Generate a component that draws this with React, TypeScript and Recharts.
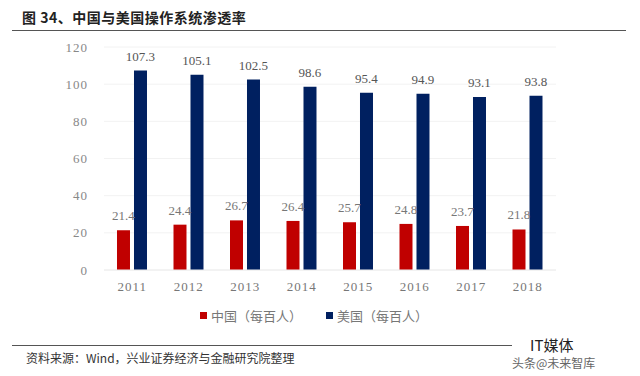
import React from "react";
import { BarChart, Bar, XAxis, YAxis, CartesianGrid, LabelList } from "recharts";

const years = ["2011", "2012", "2013", "2014", "2015", "2016", "2017", "2018"];
const chinaValues = [21.4, 24.4, 26.7, 26.4, 25.7, 24.8, 23.7, 21.8];
const usValues = [107.3, 105.1, 102.5, 98.6, 95.4, 94.9, 93.1, 93.8];
const yTicks = [0, 20, 40, 60, 80, 100, 120];

const data = years.map((year, i) => ({ year, china: chinaValues[i], us: usValues[i] }));

const serif = "'Liberation Serif', 'DejaVu Serif', 'Noto Sans CJK SC', serif";
const cjk = "'Noto Sans CJK SC', sans-serif";

function LegendContent() {
  const items = [
    { label: "中国（每百人）", color: "#C00000" },
    { label: "美国（每百人）", color: "#002060" },
  ];
  return (
    <div style={{ display: "flex", gap: 24, fontFamily: cjk, fontSize: 13, color: "#777" }}>
      {items.map((it) => (
        <div key={it.label} style={{ display: "flex", alignItems: "center" }}>
          <span style={{ width: 7, height: 7, background: it.color, marginRight: 4, display: "inline-block" }} />
          <span>{it.label}</span>
        </div>
      ))}
    </div>
  );
}

export default function App() {
  return (
    <div style={{ position: "absolute", left: 0, top: 0, width: 640, height: 376, background: "#fff", overflow: "hidden" }}>
      <div style={{ position: "absolute", left: 22, top: 7, fontFamily: cjk, fontWeight: 700, fontSize: 14, color: "#222", letterSpacing: 0.5 }}>
        图 34、中国与美国操作系统渗透率
      </div>
      <div style={{ position: "absolute", left: 12, top: 30, width: 614, height: 1, background: "#555" }} />

      <BarChart
        width={640}
        height={376}
        data={data}
        margin={{ top: 47, right: 84, bottom: 76, left: 0 }}
        barCategoryGap="23%"
        barGap={4}
      >
        <CartesianGrid vertical={false} stroke="#f2f2f2" />
        <XAxis
          dataKey="year"
          axisLine={{ stroke: "#ececec" }}
          tickLine={false}
          tickMargin={6}
          tick={{ fontSize: 13, fill: "#777", fontFamily: serif, letterSpacing: 1 }}
        />
        <YAxis
          width={104}
          domain={[0, 120]}
          ticks={yTicks}
          axisLine={false}
          tickLine={false}
          tickMargin={10}
          tick={{ fontSize: 13, fill: "#888", fontFamily: serif, letterSpacing: 1 }}
        />
        <Bar dataKey="china" fill="#C00000" isAnimationActive={false}>
          <LabelList dataKey="china" position="top" offset={10} style={{ fontSize: 13, fill: "#777", fontFamily: serif }} />
        </Bar>
        <Bar dataKey="us" fill="#002060" isAnimationActive={false}>
          <LabelList dataKey="us" position="top" offset={10} style={{ fontSize: 13, fill: "#555", fontFamily: serif }} />
        </Bar>
      </BarChart>

      <div style={{ position: "absolute", left: 200, top: 306 }}>
        <LegendContent />
      </div>

      <div style={{ position: "absolute", left: 12, top: 345, width: 500, height: 1, background: "#555" }} />
      <div style={{ position: "absolute", left: 26, top: 349, fontFamily: cjk, fontSize: 12, color: "#333" }}>
        资料来源：Wind，兴业证券经济与金融研究院整理
      </div>
      <div style={{ position: "absolute", left: 530, top: 334, fontFamily: cjk, fontSize: 15, color: "#222" }}>
        IT媒体
      </div>
      <div style={{ position: "absolute", left: 512, top: 354, fontFamily: cjk, fontSize: 12, color: "#666" }}>
        头条@未来智库
      </div>
    </div>
  );
}
